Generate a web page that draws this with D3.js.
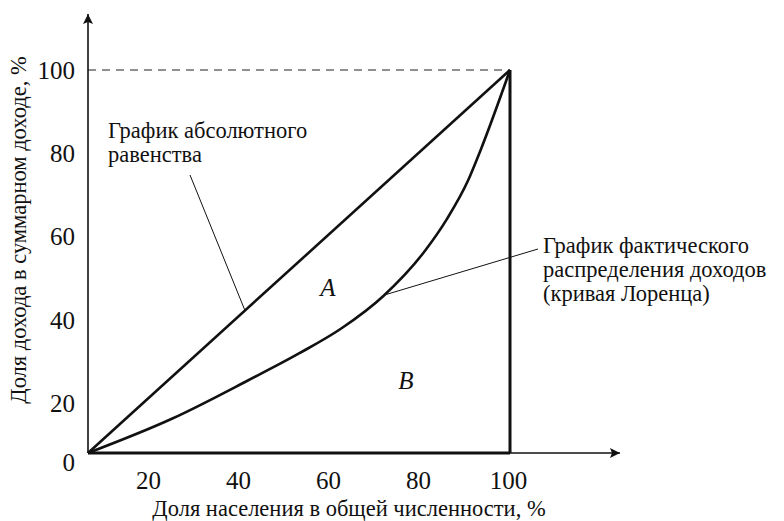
<!DOCTYPE html>
<html lang="ru">
<head>
<meta charset="utf-8">
<title>Кривая Лоренца</title>
<script src="https://cdn.jsdelivr.net/npm/d3@7"></script>
<style>
  body { margin: 0; background: #fff; }
</style>
</head>
<body>
<div id="chart"></div>
<script>
// data
var xTicks = [20, 40, 60, 80, 100];
var yTicks = [20, 40, 60, 80, 100];
var equalityX = [0, 100];
var equalityY = [0, 100];
var lorenzX = [0, 20, 38, 50, 60, 70, 80, 85, 90, 93, 100];
var lorenzY = [0, 9, 19, 26, 32.5, 41, 53, 61, 71, 79, 100];

var w = 784, h = 521;
var x0 = 88, x1 = 510, y0 = 453, y1 = 70;
var serif = "'Liberation Serif', 'DejaVu Serif', serif";

var svg = d3.select("#chart").append("svg")
  .attr("width", w).attr("height", h)
  .attr("font-family", serif);

var defs = svg.append("defs");
defs.append("marker").attr("id", "arr")
  .attr("viewBox", "0 0 10 10").attr("refX", 10).attr("refY", 5)
  .attr("markerWidth", 22).attr("markerHeight", 10)
  .attr("markerUnits", "userSpaceOnUse")
  .attr("orient", "auto")
  .append("path").attr("d", "M0,0 L10,5 L0,10 L2,5 Z").attr("fill", "#111");

var x = d3.scaleLinear().domain([0, 100]).range([x0, x1]);
var y = d3.scaleLinear().domain([0, 100]).range([y0, y1]);
// tick labels in the drawing sit on their own spacing
var xLab = d3.scaleLinear().domain([0, 100]).range([58, 508]);
var yLab = d3.scaleLinear().domain([0, 100]).range([487, 70]);

// ticks
var xa = svg.append("g").attr("transform", "translate(0," + (y0 + 27) + ")")
  .call(d3.axisBottom(xLab).tickValues(xTicks).tickSize(0).tickPadding(0))
  .attr("font-family", serif).attr("font-size", 25);
xa.select(".domain").remove();
xa.selectAll(".tick text").attr("dy", "0.35em").attr("fill", "#111");

var ya = svg.append("g").attr("transform", "translate(" + (x0 - 13) + ",0)")
  .call(d3.axisLeft(yLab).tickValues(yTicks).tickSize(0).tickPadding(0))
  .attr("font-family", serif).attr("font-size", 25);
ya.select(".domain").remove();
ya.selectAll(".tick text").attr("fill", "#111");

svg.append("text").attr("x", x0 - 13).attr("y", y0 + 9)
  .attr("dy", "0.35em").attr("text-anchor", "end")
  .attr("font-size", 25).attr("fill", "#111").text("0");

// dashed top line
svg.append("line")
  .attr("x1", x(0)).attr("x2", x(100)).attr("y1", y(100)).attr("y2", y(100))
  .attr("stroke", "#222").attr("stroke-width", 1.2).attr("stroke-dasharray", "8,6");

// axes with arrows
svg.append("line")
  .attr("x1", x0).attr("y1", y0).attr("x2", x0).attr("y2", 14)
  .attr("stroke", "#111").attr("stroke-width", 1.6).attr("marker-end", "url(#arr)");
svg.append("line")
  .attr("x1", x0).attr("y1", y0).attr("x2", 620).attr("y2", y0)
  .attr("stroke", "#111").attr("stroke-width", 1.6).attr("marker-end", "url(#arr)");
svg.append("line")
  .attr("x1", x(0)).attr("y1", y0).attr("x2", x(100)).attr("y2", y0)
  .attr("stroke", "#111").attr("stroke-width", 3);

// right vertical line
svg.append("line")
  .attr("x1", x(100)).attr("x2", x(100)).attr("y1", y(100)).attr("y2", y(0))
  .attr("stroke", "#111").attr("stroke-width", 3);

// equality line
var line = d3.line().x(function(d) { return x(d[0]); }).y(function(d) { return y(d[1]); });
svg.append("path")
  .attr("d", line(d3.zip(equalityX, equalityY)))
  .attr("fill", "none").attr("stroke", "#111").attr("stroke-width", 2.6);

// lorenz curve
svg.append("path")
  .attr("d", line.curve(d3.curveMonotoneX)(d3.zip(lorenzX, lorenzY)))
  .attr("fill", "none").attr("stroke", "#111").attr("stroke-width", 2.6);

// leader lines
svg.append("line")
  .attr("x1", 190).attr("y1", 175).attr("x2", x(37.2)).attr("y2", y(37.2))
  .attr("stroke", "#111").attr("stroke-width", 1);
svg.append("line")
  .attr("x1", 538).attr("y1", 249).attr("x2", x(70.4)).attr("y2", y(41.3))
  .attr("stroke", "#111").attr("stroke-width", 1);

// labels
function lines(xp, yp, arr) {
  var t = svg.append("text").attr("x", xp).attr("y", yp)
    .attr("font-size", 22.5).attr("fill", "#111");
  arr.forEach(function(s, i) {
    t.append("tspan").attr("x", xp).attr("dy", i ? 24 : 0).text(s);
  });
}
lines(108, 138, ["График абсолютного", "равенства"]);
lines(543, 253, ["График фактического", "распределения доходов", "(кривая Лоренца)"]);

svg.append("text").attr("x", 328).attr("y", 296).attr("text-anchor", "middle")
  .attr("font-size", 25).attr("font-style", "italic").attr("fill", "#111").text("A");
svg.append("text").attr("x", 406).attr("y", 389).attr("text-anchor", "middle")
  .attr("font-size", 25).attr("font-style", "italic").attr("fill", "#111").text("B");

// axis titles
svg.append("text").attr("x", 349).attr("y", 516).attr("text-anchor", "middle")
  .attr("font-size", 22.5).attr("fill", "#111")
  .text("Доля населения в общей численности, %");
svg.append("text").attr("transform", "translate(26,230) rotate(-90)")
  .attr("text-anchor", "middle")
  .attr("font-size", 22.5).attr("fill", "#111")
  .text("Доля дохода в суммарном доходе, %");
</script>
</body>
</html>
